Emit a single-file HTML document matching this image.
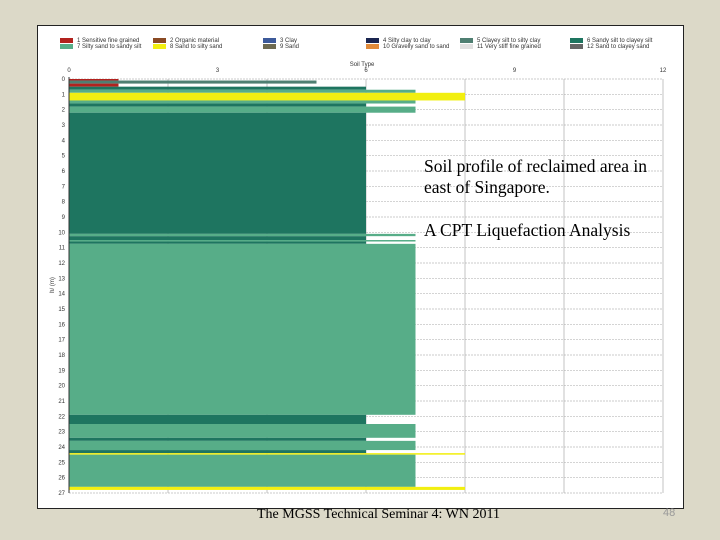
<!DOCTYPE html>
<html><head><meta charset="utf-8"><style>
body{margin:0;width:720px;height:540px;background:#dcd9c8;position:relative;overflow:hidden;font-family:"Liberation Sans",sans-serif}
#frame{position:absolute;left:37px;top:25px;width:645px;height:482px;background:#fff;border:1px solid #222}
.leg{position:absolute;font-size:6px;color:#333;white-space:nowrap}
.sw{display:inline-block;width:13px;height:5px;margin-right:4px;vertical-align:middle}
.t{position:absolute;font-family:"Liberation Serif",serif}
</style></head><body>
<div id="frame"></div>
<svg id="chart" width="720" height="540" style="position:absolute;left:0;top:0"></svg>
<div class="t" style="left:424px;top:156px;font-size:17.5px;line-height:21px;width:245px">Soil profile of reclaimed area in east of Singapore.</div>
<div class="t" style="left:424px;top:220px;font-size:17.5px">A CPT Liquefaction Analysis</div>
<div class="t" style="left:257px;top:507px;font-size:14px">The MGSS Technical Seminar 4: WN 2011</div>
<div class="t" style="left:663px;top:507px;font-size:11px;color:#999;font-family:'Liberation Sans',sans-serif">48</div>
<script>
const legendLabels=["1 Sensitive fine grained","2 Organic material","3 Clay","4 Silty clay to clay","5 Clayey silt to silty clay","6 Sandy silt to clayey silt","7 Silty sand to sandy silt","8 Sand to silty sand","9 Sand","10 Gravelly sand to sand","11 Very stiff fine grained","12 Sand to clayey sand"];
const legendColors=["#b2221e","#8a4a24","#3d5a9a","#1a2550","#4f7f72","#1e7560","#57ad88","#f2ef10","#6e6a50","#e08a3a","#e0e0e0","#666"];
const layerTop=[0,0.1,0.3,0.5,0.7,0.9,1.4,1.6,1.8,2.2,10.1,10.25,10.5,10.6,10.75,21.9,22.5,23.4,23.6,24.2,24.4,24.5,26.6];
const layerBottom=[0.1,0.3,0.5,0.7,0.9,1.4,1.6,1.8,2.2,10.1,10.25,10.5,10.6,10.75,21.9,22.5,23.4,23.6,24.2,24.4,24.5,26.6,26.8];
const layerType=[1,5,1,6,7,8,7,6,7,6,7,6,7,6,7,6,7,6,7,6,8,7,8];
const xTicks=[0,3,6,9,12];
const yTicks=[0,1,2,3,4,5,6,7,8,9,10,11,12,13,14,15,16,17,18,19,20,21,22,23,24,25,26,27];
const X0=69,X1=663,Y0=79,Y1=493,XMAX=12,YMAX=27;
const sx=v=>X0+v/XMAX*(X1-X0), sy=v=>Y0+v/YMAX*(Y1-Y0);
const svg=document.getElementById('chart'),NS="http://www.w3.org/2000/svg";
function mk(tag,at){const e=document.createElementNS(NS,tag);for(const k in at)e.setAttribute(k,at[k]);svg.appendChild(e);return e;}
for(const d of yTicks){const g=mk('line',{x1:X0,x2:X1,y1:sy(d),y2:sy(d),stroke:'#bbb','stroke-width':0.7,'stroke-dasharray':'2,1'});


const t=mk('text',{x:X0-4,y:sy(d)+2,'font-size':6,'text-anchor':'end',fill:'#333'});t.textContent=d;

}
for(let v=0;v<=XMAX;v+=2){const g=mk('line',{x1:sx(v),x2:sx(v),y1:Y0,y2:Y1,stroke:'#aaa','stroke-width':0.7});

}
for(const v of xTicks){const t=mk('text',{x:sx(v),y:72,'font-size':6,'text-anchor':'middle',fill:'#333'});t.textContent=v;

}
const xt=mk('text',{x:sx(6)-4,y:66,'font-size':6,'text-anchor':'middle',fill:'#333'});xt.textContent='Soil Type';


const yt=mk('text',{x:54,y:285,'font-size':6,'text-anchor':'middle',fill:'#333',transform:'rotate(-90 54 285)'});yt.textContent='h/ (m)';


for(let i=0;i<layerType.length;i++){const r=mk('rect',{x:X0,y:sy(layerTop[i]),width:sx(layerType[i])-X0,height:sy(layerBottom[i])-sy(layerTop[i]),fill:legendColors[layerType[i]-1]});

}
const ax=mk('line',{x1:X0,x2:X0,y1:Y0-2,y2:Y1,stroke:'#333','stroke-width':1});


const cols=[60,153,263,366,460,570];
legendLabels.forEach((l,i)=>{const d=document.createElement('div');d.className='leg';
d.style.left=cols[i%6]+'px';d.style.top=(i<6?38:44)+'px';
d.innerHTML='<span class="sw" style="background:'+legendColors[i]+'"></span>'+l;


document.body.appendChild(d);});
</script>
</body></html>
